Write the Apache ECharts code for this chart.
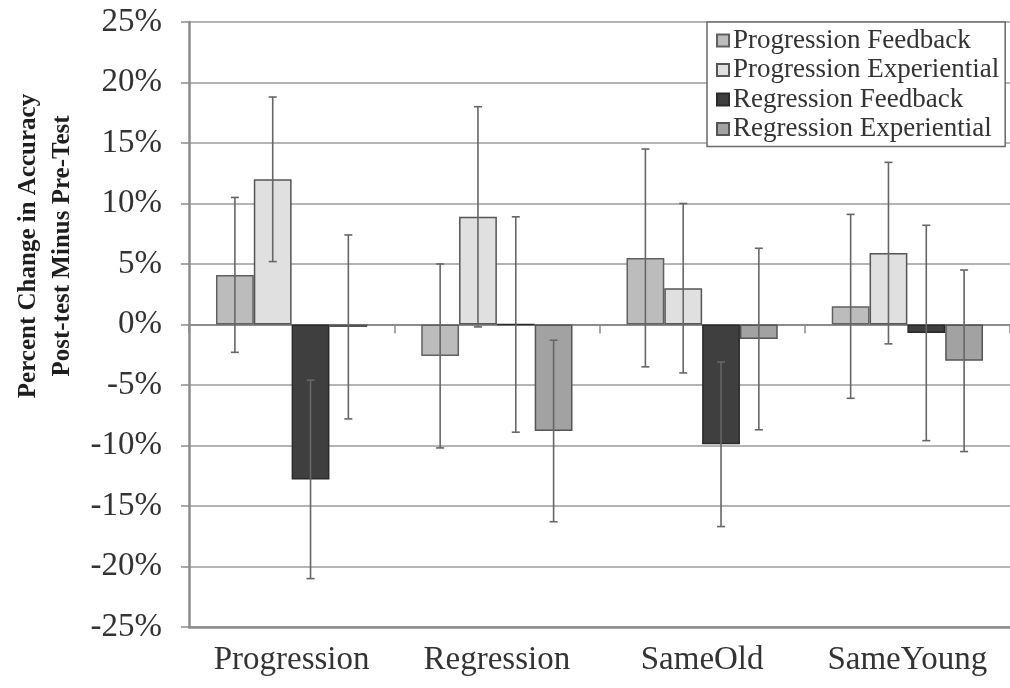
<!DOCTYPE html>
<html>
<head>
<meta charset="utf-8">
<script src="https://cdn.jsdelivr.net/npm/echarts@6/dist/echarts.min.js"></script>
<style>
html,body{margin:0;padding:0;background:#fff;}
#chart{width:1010px;height:688px;}
</style>
</head>
<body>
<div id="chart"></div>
<script>
var categories = ['Progression', 'Regression', 'SameOld', 'SameYoung'];
var seriesNames = ['Progression Feedback', 'Progression Experiential', 'Regression Feedback', 'Regression Experiential'];
var progFeedback = [4.1, -2.6, 5.5, 1.5];
var progFeedbackErr = [6.4, 7.6, 9.0, 7.6];
var progExperiential = [12.0, 8.9, 3.0, 5.9];
var progExperientialErr = [6.8, 9.1, 7.0, 7.5];
var regFeedback = [-12.8, 0, -9.9, -0.7];
var regFeedbackErr = [8.2, 8.9, 6.8, 8.9];
var regExperiential = [-0.2, -8.8, -1.2, -3.0];
var regExperientialErr = [7.6, 7.5, 7.5, 7.5];

var values = [progFeedback, progExperiential, regFeedback, regExperiential];
var errs = [progFeedbackErr, progExperientialErr, regFeedbackErr, regExperientialErr];
var fills = ['#bcbcbc', '#e0e0e0', '#3f3f3f', '#a2a2a2'];
var borders = ['#606060', '#555555', '#2a2a2a', '#555555'];
var GAP = 0.263;
var FONT = '"Liberation Serif", "DejaVu Serif", serif';

var chart = echarts.init(document.getElementById('chart'), null, {renderer: 'canvas'});

var series = [];
values.forEach(function (vals, k) {
  series.push({
    name: seriesNames[k],
    type: 'bar',
    data: vals,
    barGap: '0%',
    barCategoryGap: (GAP * 100) + '%',
    itemStyle: {color: fills[k], borderColor: borders[k], borderWidth: 1.5},
    emphasis: {disabled: true},
    z: 2
  });
});
values.forEach(function (vals, k) {
  series.push({
    name: seriesNames[k] + ' err',
    type: 'custom',
    z: 5,
    silent: true,
    data: vals.map(function (v, i) { return [i, v - errs[k][i], v + errs[k][i]]; }),
    renderItem: function (params, api) {
      var x = api.value(0);
      var lo = api.coord([x, api.value(1)]);
      var hi = api.coord([x, api.value(2)]);
      var catW = api.size([1, 0])[0];
      var barW = catW * (1 - GAP) / 4;
      var px = lo[0] - catW * (1 - GAP) / 2 + barW * (k + 0.5);
      var cap = 4;
      var st = {stroke: '#666666', lineWidth: 1.6};
      return {
        type: 'group',
        children: [
          {type: 'line', shape: {x1: px, y1: lo[1], x2: px, y2: hi[1]}, style: st},
          {type: 'line', shape: {x1: px - cap, y1: lo[1], x2: px + cap, y2: lo[1]}, style: st},
          {type: 'line', shape: {x1: px - cap, y1: hi[1], x2: px + cap, y2: hi[1]}, style: st}
        ]
      };
    }
  });
});

chart.setOption({
  animation: false,
  backgroundColor: '#ffffff',
  grid: {left: 189, right: -4, top: 22, bottom: 61, containLabel: false},
  legend: {
    data: seriesNames,
    orient: 'vertical',
    left: 707,
    top: 22,
    padding: [5, 6, 4, 9],
    itemGap: 2.5,
    itemWidth: 12,
    itemHeight: 12,
    backgroundColor: '#ffffff',
    borderColor: '#6a6a6a',
    borderWidth: 1.5,
    borderRadius: 0,
    icon: 'rect',
    selectedMode: false,
    textStyle: {fontFamily: FONT, fontSize: 27, lineHeight: 27, color: '#333333', padding: [0, 0, 0, -1]}
  },
  xAxis: [
    {
      type: 'category',
      data: categories,
      position: 'bottom',
      axisLine: {onZero: false, lineStyle: {color: '#8c8c8c', width: 2.5}},
      axisTick: {show: false},
      axisLabel: {interval: 0, hideOverlap: false, fontFamily: FONT, fontSize: 33, color: '#333333', margin: 17},
      splitLine: {show: false}
    },
    {
      type: 'category',
      data: categories,
      position: 'bottom',
      axisLine: {onZero: true, lineStyle: {color: '#8c8c8c', width: 2}},
      axisTick: {show: true, length: 9, lineStyle: {color: '#8c8c8c', width: 1.5}},
      axisLabel: {show: false},
      splitLine: {show: false}
    }
  ],
  yAxis: {
    type: 'value',
    min: -25,
    max: 25,
    interval: 5,
    axisLine: {show: true, lineStyle: {color: '#8c8c8c', width: 2.5}},
    axisTick: {show: true, length: 8, lineStyle: {color: '#8c8c8c', width: 1.5}},
    axisLabel: {formatter: '{value}%', fontFamily: FONT, fontSize: 33, color: '#333333', margin: 27},
    splitLine: {show: true, lineStyle: {color: '#b4b4b4', width: 2}}
  },
  graphic: [
    {
      type: 'text',
      x: 46,
      y: 246,
      rotation: Math.PI / 2,
      style: {
        text: 'Percent Change in Accuracy\nPost-test Minus Pre-Test',
        font: 'bold 25px ' + FONT,
        fill: '#1e1e1e',
        textAlign: 'center',
        textVerticalAlign: 'middle',
        lineHeight: 34
      }
    }
  ],
  series: series
});
</script>
</body>
</html>
